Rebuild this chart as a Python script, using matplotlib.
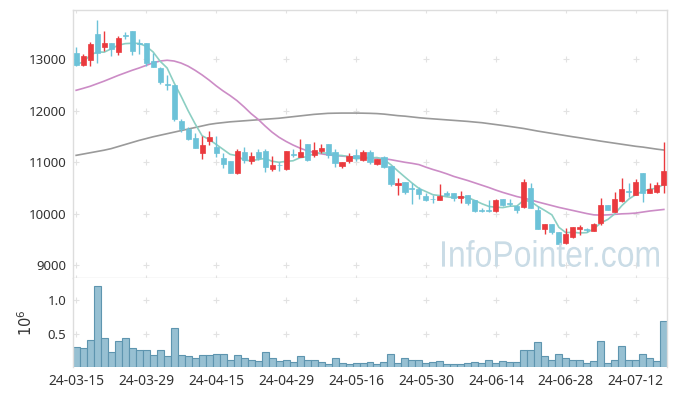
import numpy as np
import pandas as pd
import matplotlib
matplotlib.use("Agg")
import matplotlib.pyplot as plt
from matplotlib.textpath import TextPath
from matplotlib.patches import PathPatch
from matplotlib.font_manager import FontProperties
from matplotlib.transforms import Affine2D

plt.rcParams['font.family'] = ['Noto Sans', 'DejaVu Sans']

# trading days (KRX holidays removed)
holidays = ['2024-04-10', '2024-05-01', '2024-05-06', '2024-05-15', '2024-06-06']
days = pd.bdate_range('2024-03-15', '2024-07-18')
days = days[~days.isin(pd.to_datetime(holidays))]
date_labels = [d.strftime('%y-%m-%d') for d in days]

opens = [13117, 12878, 12988, 13486, 13240, 13311, 13143, 13460, 13544, 13300,
         13311, 12955, 12826, 12510, 12490, 11791, 11649, 11467, 11176, 11403,
         11297, 11084, 11019, 10780, 11187, 11026, 11187, 11213, 10870, 10945,
         10870, 11145, 11103, 11349, 11129, 11213, 11343, 11194, 10929, 11026,
         11136, 11039, 11195, 10968, 11104, 10923, 10560, 10619, 10495, 10469,
         10341, 10290, 10263, 10405, 10392, 10308, 10360, 10263, 10060, 10055,
         10055, 10282, 10200, 10146, 10120, 10489, 10068, 9699, 9790, 9648,
         9421, 9538, 9700, 9690, 9667, 9822, 10165, 10036, 10249, 10435,
         10359, 10780, 10392, 10411, 10553]
highs = [13234, 13100, 13331, 13751, 13538, 13311, 13441, 13525, 13544, 13395,
         13311, 13117, 12846, 12684, 12490, 11830, 11680, 11571, 11506, 11597,
         11504, 11168, 11019, 11246, 11285, 11187, 11246, 11246, 11116, 10993,
         11213, 11246, 11446, 11349, 11395, 11349, 11343, 11246, 11006, 11168,
         11246, 11234, 11234, 11052, 11117, 10923, 10700, 10619, 10586, 10520,
         10392, 10360, 10570, 10430, 10392, 10438, 10360, 10263, 10101, 10262,
         10275, 10282, 10275, 10165, 10663, 10586, 10146, 9797, 9790, 9648,
         9725, 9745, 9777, 9725, 9810, 10295, 10165, 10424, 10696, 10586,
         10680, 10780, 10599, 10618, 11395]
lows = [12865, 12860, 12858, 12930, 13150, 13059, 13072, 13395, 13085, 13104,
        12858, 12845, 12522, 12393, 11791, 11584, 11422, 11273, 11053, 11338,
        11103, 10877, 10780, 10767, 10974, 10961, 11039, 10812, 10832, 10825,
        10845, 11090, 11090, 11026, 11090, 11181, 11071, 10896, 10877, 10987,
        11026, 11026, 10962, 10942, 10878, 10535, 10360, 10380, 10185, 10289,
        10243, 10198, 10263, 10340, 10243, 10210, 10166, 10036, 10023, 10036,
        10036, 10146, 10146, 10004, 10101, 10101, 9693, 9602, 9602, 9408,
        9402, 9518, 9583, 9648, 9667, 9777, 10068, 10036, 10230, 10327,
        10359, 10230, 10392, 10392, 10392]
closes = [12878, 13059, 13292, 13117, 13311, 13201, 13408, 13450, 13156, 13290,
          12930, 12852, 12554, 12500, 11843, 11636, 11454, 11280, 11338, 11480,
          11168, 10967, 10793, 11213, 11039, 11116, 11084, 10896, 10942, 10935,
          11213, 11136, 11194, 11039, 11233, 11278, 11129, 10987, 11006, 11116,
          11071, 11195, 11007, 11052, 10910, 10567, 10585, 10425, 10480, 10380,
          10263, 10280, 10341, 10360, 10308, 10341, 10198, 10056, 10050, 10048,
          10262, 10165, 10190, 10068, 10618, 10113, 9699, 9797, 9648, 9408,
          9596, 9738, 9730, 9680, 9790, 10165, 10068, 10282, 10469, 10428,
          10605, 10392, 10476, 10553, 10825]
# closes of the 4 sessions before the first one (for the 5-day average)
prior_closes = [12794, 12647, 12792, 13339]

volumes = [294000, 280000, 410000, 1210000, 430000, 220000, 390000, 430000, 290000, 250000,
           260000, 180000, 260000, 160000, 590000, 180000, 160000, 130000, 180000, 180000,
           190000, 190000, 100000, 180000, 140000, 110000, 90000, 220000, 130000, 90000,
           110000, 70000, 160000, 100000, 110000, 70000, 40000, 130000, 60000, 40000,
           60000, 60000, 70000, 40000, 70000, 190000, 60000, 130000, 110000, 100000,
           60000, 70000, 90000, 40000, 40000, 40000, 60000, 70000, 60000, 100000,
           60000, 90000, 70000, 70000, 250000, 260000, 370000, 160000, 100000, 190000,
           130000, 100000, 100000, 60000, 90000, 390000, 60000, 110000, 320000, 110000,
           100000, 190000, 130000, 90000, 690000]

ma20 = [12392, 12430, 12470, 12520, 12570, 12625, 12680, 12730, 12780, 12825,
        12875, 12925, 12960, 12975, 12960, 12920, 12860, 12780, 12690, 12590,
        12480, 12380, 12290, 12190, 12070, 11940, 11830, 11700, 11580, 11480,
        11400, 11330, 11270, 11220, 11185, 11160, 11140, 11125, 11115, 11105,
        11095, 11090, 11085, 11075, 11065, 11045, 11020, 10995, 10975, 10950,
        10900, 10855, 10815, 10770, 10720, 10680, 10640, 10595, 10550, 10505,
        10455, 10410, 10370, 10330, 10300, 10265, 10225, 10190, 10155, 10120,
        10090, 10060, 10030, 10000, 9975, 9970, 9975, 9985, 9995, 10000,
        10010, 10030, 10050, 10065, 10080]
ma60 = [11130, 11155, 11180, 11205, 11230, 11260, 11300, 11340, 11380, 11420,
        11455, 11490, 11520, 11550, 11580, 11610, 11640, 11670, 11700, 11730,
        11750, 11765, 11780, 11790, 11800, 11810, 11820, 11830, 11840, 11850,
        11865, 11880, 11895, 11910, 11925, 11935, 11945, 11948, 11950, 11950,
        11950, 11948, 11945, 11940, 11930, 11915, 11900, 11890, 11875, 11860,
        11848, 11838, 11828, 11818, 11808, 11798, 11788, 11775, 11763, 11745,
        11727, 11709, 11690, 11670, 11650, 11625, 11600, 11578, 11556, 11534,
        11512, 11490, 11470, 11448, 11427, 11405, 11385, 11365, 11345, 11325,
        11305, 11290, 11270, 11250, 11233]

UP = '#ea3a3e'
DOWN = '#6cc2d8'
GRID = '#e2e2e2'

o = np.array(opens, float)
h = np.array(highs, float)
l = np.array(lows, float)
c = np.array(closes, float)
x = np.arange(len(c))
allc = np.concatenate([prior_closes, c])
ma5 = pd.Series(allc).rolling(5).mean().to_numpy()[len(prior_closes):]

fig = plt.figure(figsize=(6.77, 3.96), dpi=100)
ax = fig.add_axes([73 / 677, 118 / 396, 594 / 677, 268 / 396])
axv = fig.add_axes([73 / 677, 29 / 396, 594 / 677, 89 / 396], sharex=ax)

# watermark
tp = TextPath((0, 0), 'InfoPointer.com', size=1, prop=FontProperties(family='Liberation Sans'))
bb = tp.get_extents()
tr = Affine2D().translate(-bb.x0, -bb.y0).scale(217 / bb.width, 27 / bb.height).translate(442, 129)
fig.add_artist(PathPatch(tp, transform=tr, facecolor='#cadce6', edgecolor='none', zorder=0.5))

xt = list(range(0, len(x), 10))
ylv = [9000, 10000, 11000, 12000, 13000]
ylim = (8750, 13950)
gx, gy = np.meshgrid(xt, ylv + [ylim[0], ylim[1]])
ax.plot(gx.ravel(), gy.ravel(), '+', color=GRID, ms=5, mew=0.8, zorder=1)

ax.plot(x, ma60, color='#9a9a9a', lw=1.2, zorder=2)
ax.plot(x, ma20, color='#cc8cc6', lw=1.2, zorder=2)
ax.plot(x, ma5, color='#8ccfc3', lw=1.2, zorder=2)

col = np.where(c >= o, UP, DOWN)
ax.vlines(x, l, h, colors=col, lw=1.0, zorder=3)
body_lo = np.minimum(o, c)
body_h = np.maximum(np.abs(c - o), 12)
ax.bar(x, body_h, bottom=body_lo, width=0.72, color=col, edgecolor=col, lw=0.5, zorder=4)

ax.set_xlim(-0.45, len(x) - 0.55)
ax.set_ylim(*ylim)
ax.set_yticks(ylv)
ax.tick_params(axis='y', length=0, pad=5, labelsize=9.5, colors='#333333')
ax.tick_params(axis='x', length=0, labelbottom=False)

# volume
vol = np.array(volumes) / 1e6
vx, vy = np.meshgrid(xt, [0.5, 1.0])
axv.plot(vx.ravel(), vy.ravel(), '+', color=GRID, ms=5, mew=0.8, zorder=1)
axv.bar(x, vol, width=1.0, color='#97c0d2', edgecolor='#5e95af', lw=0.8, zorder=2)
axv.set_ylim(0, 1.33)
axv.set_yticks([0.5, 1.0])
axv.set_yticklabels(['0.5', '1.0'])
axv.set_ylabel('$10^6$', fontsize=10.5, color='#333333', labelpad=8)
axv.set_xticks(xt)
axv.set_xticklabels([date_labels[i] for i in xt])
axv.tick_params(axis='y', length=0, pad=5, labelsize=9.5, colors='#333333')
axv.tick_params(axis='x', length=0, pad=5, labelsize=10, colors='#333333')

for a in (ax, axv):
    for s in a.spines.values():
        s.set_color('#dddddd')
        s.set_linewidth(1.0)
axv.spines['bottom'].set_visible(False)
axv.spines['top'].set_visible(False)

fig.savefig('out.png', dpi=100)
